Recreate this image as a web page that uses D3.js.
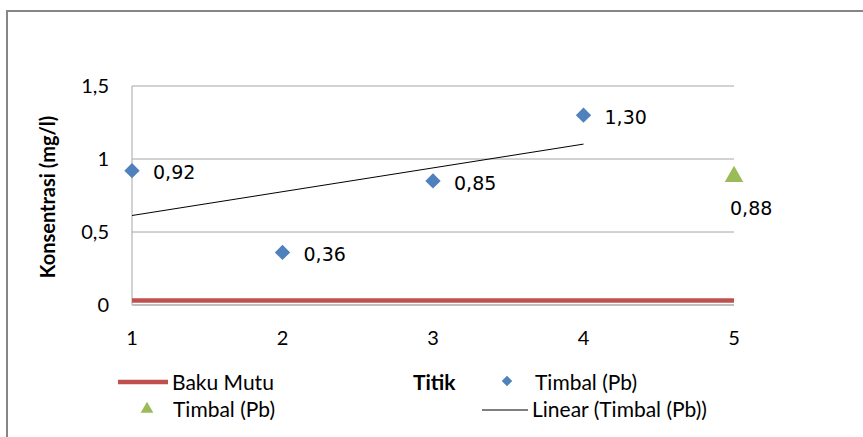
<!DOCTYPE html>
<html>
<head>
<meta charset="utf-8">
<script src="https://cdn.jsdelivr.net/npm/d3@7"></script>
<style>
  body { margin: 0; background: #fff; }
</style>
</head>
<body>
<div id="chart"></div>
<script>
var width = 863;
var height = 437;

// data
var titik = [1, 2, 3, 4];
var timbal = [0.92, 0.36, 0.85, 1.30];
var titik2 = [5];
var timbal2 = [0.88];
var bakuMutu = 0.03;
var xTicks = [1, 2, 3, 4, 5];
var yTicks = [0, 0.5, 1, 1.5];

var fmt = function (v) { return d3.format(".2f")(v).replace(".", ","); };
var fmtTick = function (v) { return String(v).replace(".", ","); };

var svg = d3.select("#chart")
    .append("svg")
    .attr("width", width)
    .attr("height", height)

var labelFont = "Lato, 'Open Sans', sans-serif";
var dataFont = "'DejaVu Sans', Verdana, sans-serif";

// outer frame
svg.append("path")
    .attr("d", "M7,437 L7,11 L863,11")
    .attr("fill", "none")
    .attr("stroke", "#868686")
    .attr("stroke-width", 2)

var x = d3.scaleLinear().domain([1, 5]).range([132, 734]);
var y = d3.scaleLinear().domain([0, 1.5]).range([305, 86]);

var g = svg.append("g")

// gridlines
g.selectAll("line.grid")
    .data(yTicks.filter(function (d) { return d > 0; }))
    .enter()
    .append("line")
    .attr("x1", x(1))
    .attr("x2", x(5))
    .attr("y1", function (d) { return y(d); })
    .attr("y2", function (d) { return y(d); })
    .attr("stroke", "#a6a6a6")
    .attr("stroke-width", 1)

// y axis line
g.append("line")
    .attr("x1", x(1)).attr("x2", x(1))
    .attr("y1", y(1.5)).attr("y2", y(0))
    .attr("stroke", "#a6a6a6")
    .attr("stroke-width", 1)

// x axis line
g.append("line")
    .attr("x1", x(1)).attr("x2", x(5))
    .attr("y1", y(0)).attr("y2", y(0))
    .attr("stroke", "#bfbfbf")
    .attr("stroke-width", 2)

// y tick labels
g.selectAll("text.ytick")
    .data(yTicks)
    .enter()
    .append("text")
    .attr("x", 109)
    .attr("y", function (d) { return y(d); })
    .attr("dy", "0.35em")
    .attr("text-anchor", "end")
    .attr("font-family", labelFont)
    .attr("font-size", 20)
    .style("fill", "#000")
    .text(function (d) { return fmtTick(d); })

// x tick labels
g.selectAll("text.xtick")
    .data(xTicks)
    .enter()
    .append("text")
    .attr("x", function (d) { return x(d); })
    .attr("y", 338)
    .attr("dy", "0.35em")
    .attr("text-anchor", "middle")
    .attr("font-family", labelFont)
    .attr("font-size", 20)
    .style("fill", "#000")
    .text(function (d) { return d; })

// y axis title
g.append("text")
    .attr("transform", "translate(55," + 197 + ") rotate(-90)")
    .attr("text-anchor", "middle")
    .attr("font-family", labelFont)
    .attr("font-size", 20)
    .attr("font-weight", "bold")
    .style("fill", "#000")
    .text("Konsentrasi (mg/l)")

// baku mutu line
g.append("line")
    .attr("x1", x(1)).attr("x2", x(5))
    .attr("y1", y(bakuMutu)).attr("y2", y(bakuMutu))
    .attr("stroke", "#c0504d")
    .attr("stroke-width", 4.5)

// linear trend of timbal (least squares)
var mx = d3.mean(titik), my = d3.mean(timbal);
var sxy = d3.sum(titik, function (d, i) { return (d - mx) * (timbal[i] - my); });
var sxx = d3.sum(titik, function (d) { return (d - mx) * (d - mx); });
var slope = sxy / sxx, icpt = my - slope * mx;
var x0 = d3.min(titik), x1 = d3.max(titik);

g.append("line")
    .attr("x1", x(x0)).attr("y1", y(icpt + slope * x0))
    .attr("x2", x(x1)).attr("y2", y(icpt + slope * x1))
    .attr("stroke", "#000")
    .attr("stroke-width", 1)

var diamond = d3.symbol().type(d3.symbolDiamond2).size(150);
var triangle = d3.symbol().type(d3.symbolTriangle).size(150);

// timbal points
for (var i = 0; i < titik.length; i++) {
    g.append("path")
        .attr("d", diamond())
        .attr("transform", "translate(" + x(titik[i]) + "," + y(timbal[i]) + ")")
        .attr("fill", "#4f81bd")

    g.append("text")
        .attr("x", x(titik[i]) + 21)
        .attr("y", y(timbal[i]) + 2)
        .attr("dy", "0.35em")
        .attr("font-family", dataFont)
        .attr("font-size", 19)
        .style("fill", "#000")
        .text(fmt(timbal[i]))
}

for (var j = 0; j < titik2.length; j++) {
    g.append("path")
        .attr("d", triangle())
        .attr("transform", "translate(" + x(titik2[j]) + "," + y(timbal2[j]) + ")")
        .attr("fill", "#9bbb59")

    g.append("text")
        .attr("x", x(titik2[j]) - 4)
        .attr("y", y(timbal2[j]) + 32)
        .attr("dy", "0.35em")
        .attr("font-family", dataFont)
        .attr("font-size", 19)
        .style("fill", "#000")
        .text(fmt(timbal2[j]))
}

// legend
var leg = svg.append("g")

leg.append("line")
    .attr("x1", 118).attr("x2", 168)
    .attr("y1", 382).attr("y2", 382)
    .attr("stroke", "#c0504d")
    .attr("stroke-width", 4.5)

leg.append("text")
    .attr("x", 172).attr("y", 383)
    .attr("dy", "0.35em")
    .attr("font-family", labelFont)
    .attr("font-size", 21)
    .text("Baku Mutu")

leg.append("text")
    .attr("x", 413).attr("y", 383)
    .attr("dy", "0.35em")
    .attr("font-family", labelFont)
    .attr("font-size", 21)
    .attr("font-weight", "bold")
    .text("Titik")

leg.append("path")
    .attr("d", d3.symbol().type(d3.symbolDiamond2).size(70)())
    .attr("transform", "translate(507,381)")
    .attr("fill", "#4f81bd")

leg.append("text")
    .attr("x", 535).attr("y", 383)
    .attr("dy", "0.35em")
    .attr("font-family", labelFont)
    .attr("font-size", 21)
    .text("Timbal (Pb)")

leg.append("path")
    .attr("d", d3.symbol().type(d3.symbolTriangle).size(70)())
    .attr("transform", "translate(147,409)")
    .attr("fill", "#9bbb59")

leg.append("text")
    .attr("x", 173).attr("y", 410)
    .attr("dy", "0.35em")
    .attr("font-family", labelFont)
    .attr("font-size", 21)
    .text("Timbal (Pb)")

leg.append("line")
    .attr("x1", 482).attr("x2", 528)
    .attr("y1", 410).attr("y2", 410)
    .attr("stroke", "#000")
    .attr("stroke-width", 1)

leg.append("text")
    .attr("x", 532).attr("y", 410)
    .attr("dy", "0.35em")
    .attr("font-family", labelFont)
    .attr("font-size", 21)
    .text("Linear (Timbal (Pb))")
</script>
</body>
</html>
